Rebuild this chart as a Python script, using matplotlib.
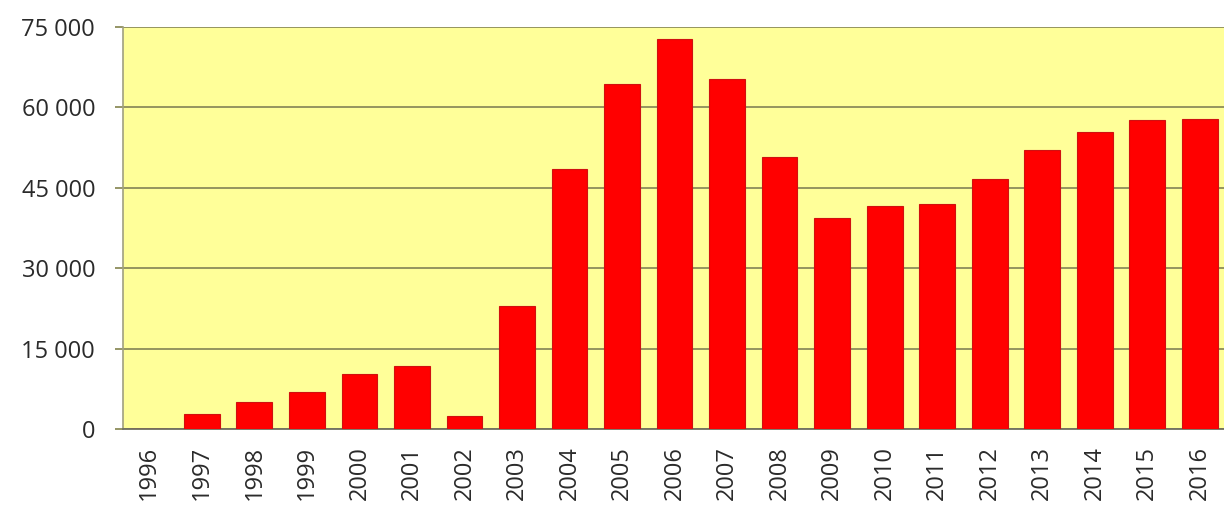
import matplotlib
matplotlib.use("Agg")
import matplotlib.pyplot as plt
from matplotlib.ticker import FuncFormatter

years = [str(y) for y in range(1996, 2017)]
values = [0, 2900, 5000, 7000, 10300, 11700, 2400, 22900, 48500, 64300,
          72700, 65200, 50700, 39400, 41500, 41900, 46600, 52000, 55400,
          57600, 57800]
yticks = [0, 15000, 30000, 45000, 60000, 75000]

plt.rcParams['font.family'] = ['Open Sans', 'DejaVu Sans']

fig = plt.figure(figsize=(12.24, 5.08), dpi=100)
ax = fig.add_axes([0.1005, 0.155, 0.9012, 0.7925])
ax.set_facecolor('#FFFF99')

x = list(range(len(years)))
ax.bar(x, values, width=0.68, color='#FF0000', edgecolor='#D01010',
       linewidth=0.8, zorder=3)

ax.set_xlim(-0.5, len(years) - 0.5)
ax.set_ylim(0, 75000)
ax.set_yticks(yticks)
ax.yaxis.set_major_formatter(FuncFormatter(lambda v, p: f"{int(v):,}".replace(",", " ")))
ax.set_xticks(x)
ax.set_xticklabels(years, rotation=90)

ax.grid(axis='y', color='#8C8C5A', linewidth=1.3, zorder=1)
for s in ['top', 'right']:
    ax.spines[s].set_visible(False)
ax.spines['left'].set_color('#A0A080')
ax.spines['left'].set_linewidth(1.2)
ax.spines['bottom'].set_color('#707060')
ax.spines['bottom'].set_linewidth(1.3)

ax.tick_params(axis='y', length=6, width=1.3, color='#8C8C5A', pad=14,
               labelsize=17, labelcolor='#2a2a2a')
ax.tick_params(axis='x', length=0, pad=12, labelsize=17, labelcolor='#2a2a2a')

fig.savefig('out.png', dpi=100, facecolor='white')
